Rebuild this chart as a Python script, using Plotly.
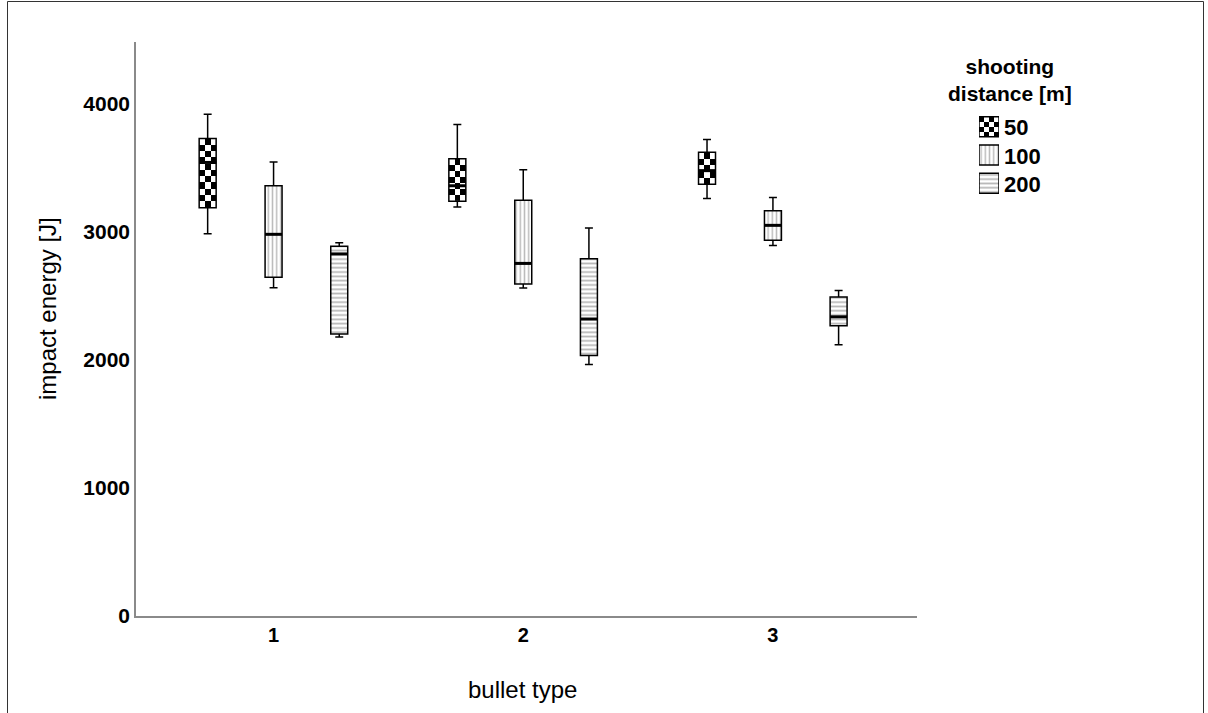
import numpy as np
import plotly.graph_objects as go

# ---------------- data ----------------
bullet_types = ["1", "2", "3"]
distances = ["50", "100", "200"]

upper_50 = [3916, 3836, 3719]
q3_50 = [3727, 3568, 3620]
median_50 = [3540, 3358, 3476]
q1_50 = [3187, 3237, 3369]
lower_50 = [2984, 3192, 3259]

upper_100 = [3544, 3482, 3266]
q3_100 = [3359, 3245, 3162]
median_100 = [2979, 2752, 3049]
q1_100 = [2643, 2591, 2932]
lower_100 = [2562, 2560, 2891]

upper_200 = [2913, 3029, 2540]
q3_200 = [2885, 2789, 2490]
median_200 = [2826, 2318, 2335]
q1_200 = [2201, 2034, 2266]
lower_200 = [2177, 1963, 2117]

y_ticks = [0, 1000, 2000, 3000, 4000]

series = {
    "50": dict(lo=lower_50, q1=q1_50, med=median_50, q3=q3_50, hi=upper_50),
    "100": dict(lo=lower_100, q1=q1_100, med=median_100, q3=q3_100, hi=upper_100),
    "200": dict(lo=lower_200, q1=q1_200, med=median_200, q3=q3_200, hi=upper_200),
}

# ---------------- style / layout ----------------
FONT = "Liberation Sans, Arial, sans-serif"
FIG_W, FIG_H = 1208, 713
ML, MR, MT, MB = 136, 3, 42, 97          # margins (px)
PLOT_R = 917                               # right end of main x axis (px)
PW = FIG_W - ML - MR
PH = FIG_H - MT - MB


def px2x(p):
    return (p - ML) / PW


def py2y(p):
    return (FIG_H - MB - p) / PH


offsets = {"50": -0.264, "100": 0.0, "200": 0.263}
W = 0.068
patterns = {
    "100": dict(shape="|", fgcolor="#7a7a7a", bgcolor="white", size=4.2, solidity=0.35),
    "200": dict(shape="-", fgcolor="#707070", bgcolor="white", size=4.3, solidity=0.4),
}
cat_x = np.arange(1, len(bullet_types) + 1)

fig = go.Figure()


def checker(xc, wx, lo, hi, ncol, nrow, xa="x", ya="y"):
    xe = np.linspace(xc - wx / 2, xc + wx / 2, ncol + 1)
    ye = np.linspace(lo, hi, nrow + 1)
    z = [[(r + c) % 2 for c in range(ncol)] for r in range(nrow)]
    return go.Heatmap(x=xe, y=ye, z=z, xaxis=xa, yaxis=ya,
                      colorscale=[[0, "white"], [1, "black"]],
                      zmin=0, zmax=1, showscale=False, hoverinfo="skip")


for d in distances:
    s = series[d]
    xs = cat_x + offsets[d]
    q1 = np.array(s["q1"], dtype=float)
    q3 = np.array(s["q3"], dtype=float)
    if d == "50":
        for i, xc in enumerate(xs):
            nrow = max(2, int(round((q3[i] - q1[i]) / 50.0)))
            fig.add_trace(checker(xc, W, q1[i], q3[i], 3, nrow))
    else:
        fig.add_trace(go.Bar(x=xs, base=q1, y=q3 - q1, width=W,
                             marker=dict(color="white", line=dict(width=0),
                                         pattern=patterns[d]),
                             showlegend=False, hoverinfo="skip"))
    fig.add_trace(go.Box(x=xs, q1=s["q1"], median=s["med"], q3=s["q3"],
                         lowerfence=s["lo"], upperfence=s["hi"],
                         width=W, whiskerwidth=0.47,
                         line=dict(color="black", width=1.5),
                         fillcolor="rgba(0,0,0,0)", boxpoints=False,
                         showlegend=False, hoverinfo="skip"))
    mx, my = [], []
    for i, xc in enumerate(xs):
        mx += [xc - W / 2, xc + W / 2, None]
        my += [s["med"][i], s["med"][i], None]
    fig.add_trace(go.Scatter(x=mx, y=my, mode="lines",
                             line=dict(color="black", width=3),
                             showlegend=False, hoverinfo="skip"))

# ---------------- legend (drawn on its own small axes) ----------------
n = len(distances)
icon_lo, icon_hi = 0.147, 0.853
for k, d in enumerate(distances):
    row = n - 1 - k
    if d == "50":
        fig.add_trace(checker(0.5, 1.0, row + icon_lo, row + icon_hi, 4, 4, "x2", "y2"))
        fig.add_trace(go.Bar(x=[0.5], base=[row + icon_lo], y=[icon_hi - icon_lo], width=1.0,
                             xaxis="x2", yaxis="y2",
                             marker=dict(color="rgba(0,0,0,0)", line=dict(color="black", width=1.5)),
                             showlegend=False, hoverinfo="skip"))
    else:
        fig.add_trace(go.Bar(x=[0.5], base=[row + icon_lo], y=[icon_hi - icon_lo], width=1.0,
                             xaxis="x2", yaxis="y2",
                             marker=dict(color="white", line=dict(color="black", width=1.5),
                                         pattern=patterns[d]),
                             showlegend=False, hoverinfo="skip"))

leg_top, leg_bot = 112.5, 197.5
row_h = (leg_bot - leg_top) / n
annotations = []
for k, d in enumerate(distances):
    yc = leg_top + row_h * (k + 0.5)
    annotations.append(dict(text=f"<b>{d}</b>", x=px2x(1002), y=py2y(yc + 1),
                            xref="paper", yref="paper", xanchor="left", yanchor="middle",
                            showarrow=False, font=dict(size=22, family=FONT)))
annotations.append(dict(text="<b>shooting<br>distance [m]</b>", x=px2x(1010), y=py2y(80),
                        xref="paper", yref="paper", xanchor="center", yanchor="middle",
                        align="center", showarrow=False, font=dict(size=21, family=FONT)))
annotations.append(dict(text="impact energy [J]", x=px2x(47), y=py2y(309),
                        xref="paper", yref="paper", xanchor="center", yanchor="middle",
                        textangle=-90, showarrow=False, font=dict(size=24, family=FONT)))
annotations.append(dict(text="bullet type", x=px2x(522), y=py2y(689),
                        xref="paper", yref="paper", xanchor="center", yanchor="middle",
                        showarrow=False, font=dict(size=24, family=FONT)))

# figure frame
fig.add_shape(type="rect", xref="paper", yref="paper",
              x0=px2x(7.5), x1=px2x(1203.5), y0=py2y(760), y1=py2y(1.5),
              line=dict(color="#333333", width=1), fillcolor="rgba(0,0,0,0)")

fig.update_layout(
    width=FIG_W, height=FIG_H,
    margin=dict(l=ML, r=MR, t=MT, b=MB),
    paper_bgcolor="white", plot_bgcolor="white",
    barmode="overlay", boxmode="overlay",
    showlegend=False,
    font=dict(family=FONT, color="black"),
    annotations=annotations,
    xaxis=dict(
        domain=[0, px2x(PLOT_R)],
        range=[0.449, 3.577], tickvals=list(cat_x), ticktext=bullet_types,
        showline=True, linecolor="#8a8a8a", linewidth=1.5,
        showgrid=False, zeroline=False, ticks="",
        tickfont=dict(size=20, family=FONT, weight="bold"),
        automargin=False,
    ),
    yaxis=dict(
        range=[0, 4480], tickvals=y_ticks, ticktext=[str(v) for v in y_ticks],
        showline=True, linecolor="#8a8a8a", linewidth=1.5,
        showgrid=False, zeroline=False, ticks="",
        tickfont=dict(size=21, family=FONT, weight="bold"),
        automargin=False,
    ),
    xaxis2=dict(domain=[px2x(979), px2x(999)], range=[0, 1], anchor="y2",
                visible=False, fixedrange=True),
    yaxis2=dict(domain=[py2y(leg_bot), py2y(leg_top)], range=[0, n], anchor="x2",
                visible=False, fixedrange=True),
)

fig.write_html("out.html")
